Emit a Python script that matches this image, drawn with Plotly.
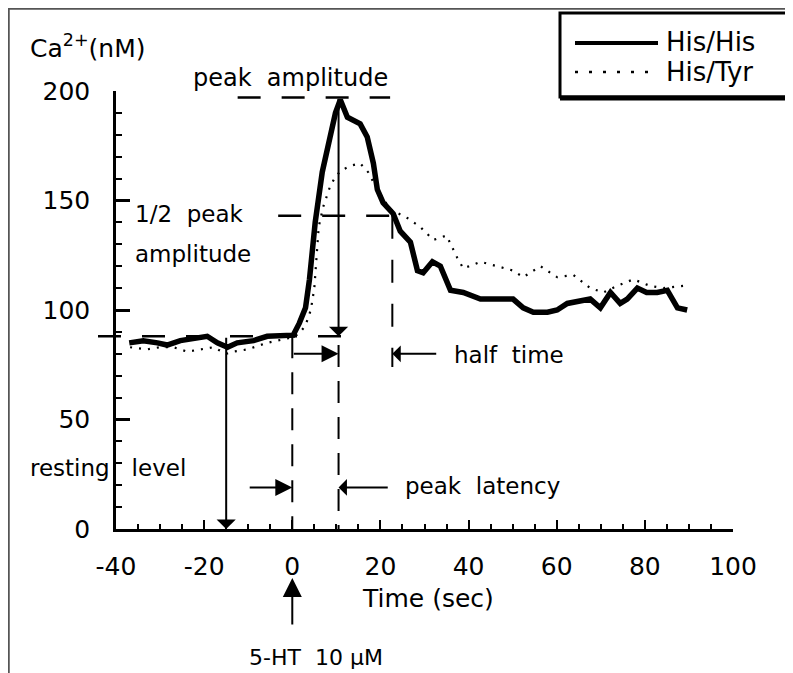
import plotly.graph_objects as go

# ---------------- data ----------------
his_his_x = [-37, -33.8, -30.6, -28.4, -25.4, -22.5, -19.3, -17.0, -14.7, -12.5,
             -8.8, -5.7, -2.7, 0.2, 1.6, 3.0, 3.9, 5.2, 6.8, 8.4,
             9.8, 10.9, 12.5, 15.4, 17.0, 18.4, 19.3, 20.6, 22.9, 24.5,
             26.8, 28.4, 29.7, 31.8, 33.6, 35.9, 38.8, 42.7, 46.5, 50.1,
             52.4, 54.7, 57.9, 60.1, 62.4, 65.4, 67.6, 69.9, 72.2, 74.4,
             76.0, 78.3, 80.4, 82.8, 85.1, 87.4, 89.6]
his_his_y = [85, 86, 85, 84, 86, 87, 88, 85, 83, 85,
             86, 88, 88.5, 88.5, 94, 101, 114, 140, 163, 178,
             190, 196, 188, 185, 179, 167, 155, 149, 144, 136,
             131, 118, 117, 122, 120, 109, 108, 105, 105, 105,
             101, 99, 99, 100, 103, 104, 105, 101, 108, 103,
             105, 110, 108, 108, 109, 101, 100]

his_tyr_x = [-36.8, -33, -30, -27, -23.8, -20.9, -17.9, -15, -13.4, -10.2,
             -5.7, -1.1, 1.5, 3.0, 4.2, 5.0, 5.5, 6.0, 7.0, 8.5,
             9.8, 11.3, 13.5, 15.4, 17.2, 19.3, 22.2, 26.1, 29.0, 32.0,
             35.0, 37.4, 38.8, 42.7, 46.5, 50.1, 52.4, 56.3, 60.1, 63.8,
             67.6, 70.6, 73.7, 77.4, 81.2, 84.2, 88.7, 89.6]
his_tyr_y = [83, 82, 83, 83, 81, 82, 83, 80, 81, 82,
             85, 87, 89, 93, 100, 110, 125, 138, 147, 156,
             161, 164, 166, 167, 163, 155, 146, 142, 138, 132,
             134, 124, 119, 122, 120, 118, 115, 120, 115, 116,
             110, 108, 111, 114, 111, 110, 111, 110]

x_ticks = [-40, -20, 0, 20, 40, 60, 80, 100]
y_ticks = [0, 50, 100, 150, 200]

resting_level = 88
peak_level = 197
half_level = 143
peak_time = 10.5
half_time = 22.7

# ---------------- layout geometry ----------------
# page is shown with an 8px body margin, so screen pixel p -> figure pixel p - 8
OFF = 8
W, H = 793, 673
PL, PR, PT, PB = 116 - OFF, 733 - OFF, 91 - OFF, 529 - OFF
XMIN, XMAX, YMIN, YMAX = -40, 100, 0, 200


def px2x(px):
    return (px - OFF - PL) / (PR - PL)


def py2y(py):
    return (PB - (py - OFF)) / (PB - PT)


def dx2p(x):
    return (x - XMIN) / (XMAX - XMIN)


def dy2p(y):
    return (y - YMIN) / (YMAX - YMIN)


FONT = "DejaVu Sans"
INK = "black"

fig = go.Figure()
fig.add_trace(go.Scatter(x=his_his_x, y=his_his_y, mode="lines", name="His/His",
                         line=dict(color=INK, width=5.5), showlegend=False))
fig.add_trace(go.Scatter(x=his_tyr_x, y=his_tyr_y, mode="lines", name="His/Tyr",
                         line=dict(color=INK, width=2.2, dash="2px,7px"), showlegend=False))

shapes = []
DASH = "23px,21px"
# resting level dashed (extends left of the axis)
shapes.append(dict(type="line", xref="paper", yref="paper",
                   x0=px2x(98), x1=dx2p(12), y0=dy2p(resting_level), y1=dy2p(resting_level),
                   line=dict(color=INK, width=2.5, dash=DASH)))
# peak amplitude dashed
shapes.append(dict(type="line", xref="x", yref="y", x0=-12.4, x1=22.2,
                   y0=peak_level, y1=peak_level, line=dict(color=INK, width=2.5, dash=DASH)))
# 1/2 peak amplitude dashed
shapes.append(dict(type="line", xref="x", yref="y", x0=-3.2, x1=24,
                   y0=half_level, y1=half_level, line=dict(color=INK, width=2.5, dash=DASH)))
# half-time vertical dashed
shapes.append(dict(type="line", xref="x", yref="y", x0=half_time, x1=half_time,
                   y0=half_level, y1=74, line=dict(color=INK, width=2, dash=DASH)))
# stimulus vertical dashed at 0
shapes.append(dict(type="line", xref="x", yref="y", x0=0, x1=0,
                   y0=resting_level, y1=0, line=dict(color=INK, width=2, dash="22px,14px")))
# peak latency vertical dashed
shapes.append(dict(type="line", xref="x", yref="y", x0=peak_time, x1=peak_time,
                   y0=84, y1=0, line=dict(color=INK, width=2, dash="22px,14px")))

# legend box
shapes.append(dict(type="rect", xref="paper", yref="paper",
                   x0=px2x(560), x1=px2x(805), y0=py2y(97), y1=py2y(13),
                   line=dict(color=INK, width=3), fillcolor="white"))
shapes.append(dict(type="line", xref="paper", yref="paper",
                   x0=px2x(560), x1=px2x(805), y0=py2y(98), y1=py2y(98),
                   line=dict(color=INK, width=5)))
shapes.append(dict(type="line", xref="paper", yref="paper",
                   x0=px2x(575), x1=px2x(658), y0=py2y(43), y1=py2y(43),
                   line=dict(color=INK, width=4)))
shapes.append(dict(type="line", xref="paper", yref="paper",
                   x0=px2x(575), x1=px2x(658), y0=py2y(72), y1=py2y(72),
                   line=dict(color=INK, width=2.5, dash="3px,11px")))

# page frame (top and left)
shapes.append(dict(type="line", xref="paper", yref="paper",
                   x0=px2x(8), x1=px2x(805), y0=py2y(8.5), y1=py2y(8.5),
                   line=dict(color="#555", width=2.5)))
shapes.append(dict(type="line", xref="paper", yref="paper",
                   x0=px2x(8.5), x1=px2x(8.5), y0=py2y(8), y1=py2y(690),
                   line=dict(color="#555", width=2.5)))

annotations = []


def arrow(x, y, ax, ay, head=2, size=1.4, width=2):
    annotations.append(dict(x=x, y=y, ax=ax, ay=ay, xref="x", yref="y",
                            axref="x", ayref="y", text="", showarrow=True,
                            arrowhead=head, arrowsize=size, arrowwidth=width,
                            arrowcolor=INK))


arrow(peak_time, resting_level, peak_time, peak_level, head=1, size=1.6)
arrow(-15, 0, -15, resting_level, head=1, size=1.6)
arrow(peak_time, 80, 0, 80, head=2, size=1.7)
arrow(half_time, 80, 33, 80, head=1, size=1.4)
arrow(0, 19, -10, 19, head=2, size=1.7)
arrow(peak_time, 19, 22, 19, head=1, size=1.4)

# 5-HT stimulus arrow below the axis
annotations.append(dict(x=dx2p(0), y=py2y(578), ax=0, ay=48,
                        xref="paper", yref="paper", axref="pixel", ayref="pixel",
                        text="", showarrow=True, arrowhead=2, arrowsize=1.9,
                        arrowwidth=2, arrowcolor=INK))


def label(text, px, py, anchor="left", size=23):
    annotations.append(dict(x=px2x(px), y=py2y(py), xref="paper", yref="paper",
                            text=text, showarrow=False, xanchor=anchor, yanchor="middle",
                            font=dict(family=FONT, size=size, color=INK)))


label("peak  amplitude", 290, 78, "center", 24)
label("1/2  peak", 133, 214)
label("amplitude", 133, 254)
label("half  time", 452, 355)
label("peak  latency", 403, 486)
label("resting   level", 28, 468)
label("Time (sec)", 428, 598, "center", 25)
label("5-HT  10 μM", 316, 657, "center", 22)
label("Ca<sup>2+</sup>(nM)", 28, 46, "left", 25)
label("His/His", 664, 42, "left", 26)
label("His/Tyr", 664, 72, "left", 26)

fig.update_layout(
    width=W, height=H,
    margin=dict(l=PL, r=W - PR, t=PT, b=H - PB),
    paper_bgcolor="white", plot_bgcolor="white",
    font=dict(family=FONT, color=INK, size=25),
    shapes=shapes, annotations=annotations,
    showlegend=False,
)
fig.update_xaxes(range=[XMIN, XMAX], tickvals=x_ticks, ticktext=[str(v) for v in x_ticks],
                 showgrid=False, zeroline=False, showline=True, linecolor=INK, linewidth=2.5,
                 ticks="inside", ticklen=9, tickwidth=2, tickcolor=INK,
                 minor=dict(dtick=5, ticks="inside", ticklen=5, tickwidth=2, tickcolor=INK),
                 tickfont=dict(family=FONT, size=25), ticklabelstandoff=13)
fig.update_yaxes(range=[YMIN, YMAX], tickvals=y_ticks, ticktext=[str(v) for v in y_ticks],
                 showgrid=False, zeroline=False, showline=True, linecolor=INK, linewidth=2.5,
                 ticks="inside", ticklen=14, tickwidth=2.5, tickcolor=INK,
                 minor=dict(dtick=10, ticks="inside", ticklen=6, tickwidth=2, tickcolor=INK),
                 tickfont=dict(family=FONT, size=25), ticklabelstandoff=18)

fig.write_html("out.html")
